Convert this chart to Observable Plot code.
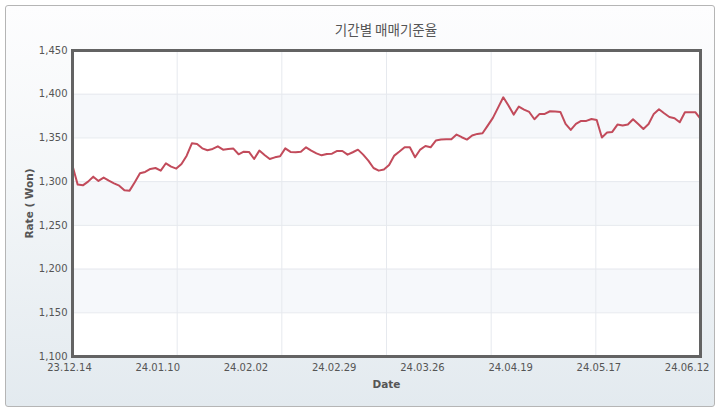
<!DOCTYPE html>
<html>
<head>
<meta charset="utf-8">
<script src="https://cdn.jsdelivr.net/npm/d3@7"></script>
<script src="https://cdn.jsdelivr.net/npm/@observablehq/plot@0.6"></script>
<style>
  html, body { margin: 0; padding: 0; background: #ffffff; }
  #wrap { position: relative; width: 720px; height: 413px; overflow: hidden; }
  #panel {
    position: absolute; left: 5px; top: 5px; width: 708px; height: 400px;
    border: 1px solid #b5b5b5; border-radius: 3px;
    background: linear-gradient(to bottom, #fdfdfe 0%, #f3f6f8 45%, #e3eaef 100%);
  }
  #title {
    position: absolute; left: 72px; width: 628px; top: 19px; text-align: center;
    font-family: "Noto Sans CJK KR", "Noto Sans", sans-serif; font-size: 13.5px; color: #555;
  }
  #chart { position: absolute; left: 0; top: 0; }
</style>
</head>
<body>
<div id="wrap">
  <div id="panel"></div>
  <div id="title">기간별 매매기준율</div>
  <div id="chart"></div>
</div>
<script>
// Daily KRW/USD base rate (매매기준율), 23.12.14 – 24.06 (trading days)
const rates = [
  1318.3, 1296.6, 1295.8, 1300.0, 1305.7, 1300.8, 1304.6, 1301.1, 1298.1, 1295.4,
  1290.1, 1289.7, 1299.2, 1309.5, 1311.1, 1314.5, 1315.6, 1312.6, 1321.0, 1317.2,
  1314.9, 1320.2, 1329.7, 1343.9, 1343.1, 1338.1, 1335.9, 1337.4, 1340.4, 1336.6,
  1337.4, 1337.8, 1331.3, 1334.3, 1334.0, 1325.9, 1335.5, 1330.5, 1325.9, 1327.8,
  1329.0, 1338.1, 1334.0, 1333.6, 1334.3, 1339.3, 1335.5, 1332.4, 1330.1, 1331.7,
  1332.0, 1335.1, 1335.1, 1330.9, 1333.6, 1336.6, 1330.9, 1324.0, 1315.6, 1312.6,
  1314.0, 1319.1, 1329.8, 1334.4, 1339.3, 1339.3, 1327.9, 1336.7, 1340.8, 1339.3,
  1347.0, 1348.1, 1348.5, 1348.5, 1353.8, 1350.8, 1348.1, 1352.7, 1354.6, 1355.3,
  1364.1, 1372.9, 1384.7, 1396.5, 1387.0, 1376.7, 1385.9, 1382.4, 1379.7, 1371.4,
  1377.5, 1377.5, 1380.5, 1380.1, 1379.7, 1366.0, 1359.2, 1366.0, 1369.5, 1369.5,
  1371.7, 1370.6, 1350.4, 1356.1, 1356.9, 1365.3, 1364.1, 1365.3, 1371.4, 1366.0,
  1360.3, 1366.0, 1377.5, 1382.8, 1378.2, 1374.0, 1372.5, 1367.9, 1379.4, 1379.4,
  1379.4, 1371.7
];
// x tick labels, one every 17 trading days starting at the first point
const tickLabels = ["23.12.14", "24.01.10", "24.02.02", "24.02.29", "24.03.26", "24.04.19", "24.05.17", "24.06.12"];
const tickStep = 17;
const yTicks = [1100, 1150, 1200, 1250, 1300, 1350, 1400, 1450];
const bands = [[1150, 1200], [1250, 1300], [1350, 1400]];

const tickIdx = tickLabels.map((_, k) => k * tickStep);
const xDomain = [0, rates.length - 1];
const vGrid = d3.range(1, 6).map(k => xDomain[0] + (xDomain[1] - xDomain[0]) * k / 6);
const points = rates.map((v, i) => ({i, v}));

const chart = Plot.plot({
  width: 720,
  height: 413,
  marginLeft: 72,
  marginRight: 20,
  marginTop: 50,
  marginBottom: 57,
  style: {background: "transparent", fontFamily: "'DejaVu Sans', sans-serif", fontSize: "10px", color: "#555"},
  x: {domain: xDomain},
  y: {domain: [yTicks[0], yTicks[yTicks.length - 1]]},
  marks: [
    Plot.frame({fill: "white"}),
    Plot.rect(bands, {y1: d => d[0], y2: d => d[1], fill: "#f6f8fb"}),
    Plot.ruleY(yTicks, {stroke: "#e6e9ee", strokeWidth: 1}),
    Plot.ruleX(vGrid, {stroke: "#e6e9ee", strokeWidth: 1}),
    Plot.line(points, {x: "i", y: "v", stroke: "#c24b5b", strokeWidth: 2, strokeLinejoin: "round"}),
    Plot.frame({stroke: "#636363", strokeWidth: 3}),
    Plot.axisY(yTicks, {
      tickSize: 0, tickPadding: 5, tickFormat: d3.format(","),
      label: "Rate ( Won)", labelAnchor: "center", labelArrow: "none", labelOffset: 47
    }),
    Plot.axisX(tickIdx, {
      tickSize: 0, tickPadding: 7, dx: -3,
      tickFormat: d => tickLabels[tickIdx.indexOf(d)],
      label: "Date", labelAnchor: "center", labelArrow: "none", labelOffset: 31
    })
  ]
});
document.getElementById("chart").append(chart);

d3.select(chart).selectAll('g[aria-label="y-axis label"] text, g[aria-label="x-axis label"] text')
  .style("font-weight", "bold").style("font-size", "10.5px").attr("fill", "#555");
</script>
</body>
</html>
